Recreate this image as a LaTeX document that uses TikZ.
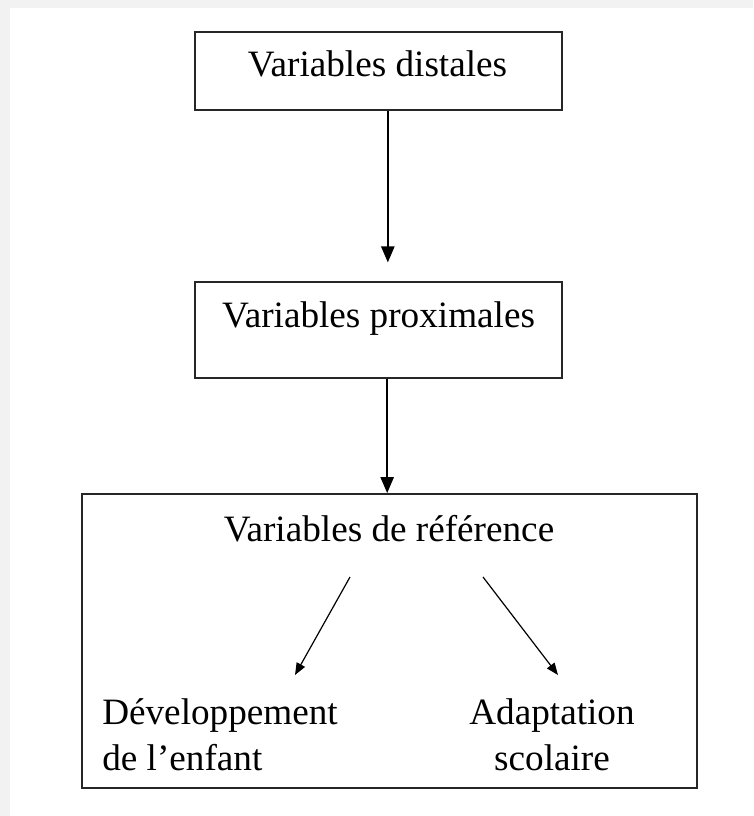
\documentclass[tikz,border=0pt]{standalone}
\usepackage{fontspec}
\setmainfont{Liberation Serif}
\usetikzlibrary{arrows.meta}
\begin{document}
\begin{tikzpicture}[x=0.75pt,y=-0.75pt,
  box/.style={draw=black!85,line width=1.4pt,minimum width=275.25pt,inner sep=0pt},
  lbl/.style={font=\fontsize{27.9}{34.5}\selectfont,inner sep=0pt,anchor=base},
  >={Triangle[length=12pt,width=10pt]}]
\useasboundingbox (0,0) rectangle (753,816);
\fill[black!5] (0,0) rectangle (753,8);
\fill[black!5] (0,8) rectangle (10,816);
% boxes
\node[box,minimum height=58.5pt] (dist) at (378.5,71) {};
\node[box,minimum height=72pt] (prox) at (378.5,330) {};
\node[box,minimum width=461.25pt,minimum height=220.5pt] (ref) at (389.5,641) {};
% texts
\node[lbl] (tdist) at (377.5,77) {Variables distales};
\node[lbl] (tprox) at (378.5,327) {Variables proximales};
\node[lbl] (tref) at (389,541) {Variables de référence};
\node[lbl,anchor=base west,align=left] (dev) at (102,770) {Développement\\de l’enfant};
\node[lbl,align=center] (adapt) at (552,770) {Adaptation\\scolaire};
\coordinate (a1) at (350,577);
\coordinate (a2) at (295,675);
\coordinate (b1) at (483,577);
\coordinate (b2) at (558,675);
% arrows
\draw[->,line width=1.1pt,shorten >=14pt] ([xshift=7pt]dist.south)--([xshift=7pt]dist.south|-prox.north);
\draw[->,line width=1.1pt] ([xshift=6.5pt]prox.south)--([xshift=6.5pt]prox.south|-ref.north);
\draw[->,line width=0.9pt,>={Triangle[length=9pt,width=7pt]}] (a1)--(a2);
\draw[->,line width=0.9pt,>={Triangle[length=9pt,width=7pt]}] (b1)--(b2);
\end{tikzpicture}
\end{document}
